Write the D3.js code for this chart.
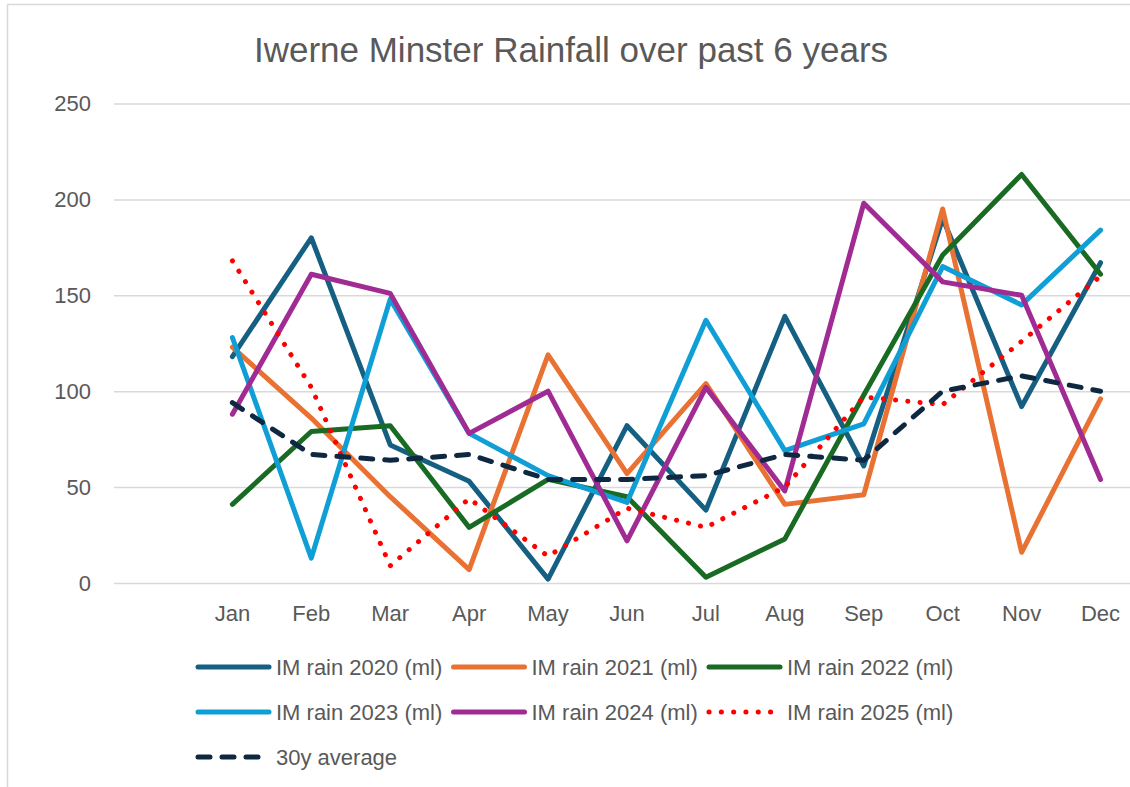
<!DOCTYPE html>
<html>
<head>
<meta charset="utf-8">
<script src="https://cdn.jsdelivr.net/npm/d3@7"></script>
<style>
  body { margin: 0; background: #fff; }
  svg { display: block; font-family: "Liberation Sans", Arial, sans-serif; }
  .grid line { stroke: #d9d9d9; stroke-width: 1.5; }
  .grid path { display: none; }
  .tick-label { fill: #595959; font-size: 22px; }
</style>
</head>
<body>
<svg width="1130" height="787"></svg>
<script>
// first category is blank in the source sheet, that's why Jan sits one slot in
const months = ['', 'Jan', 'Feb', 'Mar', 'Apr', 'May', 'Jun', 'Jul', 'Aug', 'Sep', 'Oct', 'Nov', 'Dec'];
const yTicks = [0, 50, 100, 150, 200, 250];

const rain2020 = [118, 180, 72, 53, 2, 82, 38, 139, 61, 190, 92, 167];
const rain2021 = [123, 86, 45, 7, 119, 57, 104, 41, 46, 195, 16, 96];
const rain2022 = [41, 79, 82, 29, 54, 45, 3, 23, 98, 171, 213, 161];
const rain2023 = [128, 13, 148, 78, 56, 42, 137, 69, 83, 165, 145, 184];
const rain2024 = [88, 161, 151, 78, 100, 22, 102, 48, 198, 157, 150, 54];
const rain2025 = [168, 102, 9, 44, 14, 39, 29, 50, 97, 93, 126, 160];
const avg30y = [94, 67, 64, 67, 54, 54, 56, 67, 64, 100, 108, 100];

const seriesNames = ['IM rain 2020 (ml)', 'IM rain 2021 (ml)', 'IM rain 2022 (ml)',
  'IM rain 2023 (ml)', 'IM rain 2024 (ml)', 'IM rain 2025 (ml)', '30y average'];

const series = [
  { name: seriesNames[0], values: rain2020, color: '#156082', dash: null },
  { name: seriesNames[1], values: rain2021, color: '#E97132', dash: null },
  { name: seriesNames[2], values: rain2022, color: '#196B24', dash: null },
  { name: seriesNames[3], values: rain2023, color: '#0F9ED5', dash: null },
  { name: seriesNames[4], values: rain2024, color: '#A02B93', dash: null },
  { name: seriesNames[5], values: rain2025, color: '#FF0000', dash: '0.1 12.2' },
  { name: seriesNames[6], values: avg30y, color: '#0E2841', dash: '12 12' }
];

const svg = d3.select('svg');

// chart frame (right/bottom run off the picture like the original)
svg.append('rect')
  .attr('x', 7.5).attr('y', 4.5)
  .attr('width', 1135).attr('height', 800)
  .attr('fill', 'none')
  .attr('stroke', '#d9d9d9')
  .attr('stroke-width', 1.5);

svg.append('text')
  .attr('x', 571)
  .attr('y', 62)
  .attr('text-anchor', 'middle')
  .attr('fill', '#595959')
  .style('font-size', '35px')
  .text('Iwerne Minster Rainfall over past 6 years');

const xScale = d3.scaleBand()
  .domain(months)
  .range([114, 1140]);

const yScale = d3.scaleLinear()
  .domain([0, 250])
  .range([583, 103.5]);

const xPos = (m) => xScale(m) + xScale.bandwidth() / 2;

// gridlines
svg.append('g')
  .attr('class', 'grid')
  .attr('transform', 'translate(114, 0)')
  .call(d3.axisLeft(yScale)
    .tickValues(yTicks)
    .tickSize(-(1140 - 114))
    .tickFormat(''));

// y labels
svg.append('g')
  .selectAll('text')
  .data(yTicks)
  .enter()
  .append('text')
  .attr('class', 'tick-label')
  .attr('x', 91)
  .attr('y', (d) => yScale(d))
  .attr('dy', '0.35em')
  .attr('text-anchor', 'end')
  .text((d) => d);

// x labels
svg.append('g')
  .selectAll('text')
  .data(months.filter((m) => m !== ''))
  .enter()
  .append('text')
  .attr('class', 'tick-label')
  .attr('x', (m) => xPos(m))
  .attr('y', 613)
  .attr('dy', '0.35em')
  .attr('text-anchor', 'middle')
  .text((m) => m);

const line = d3.line()
  .x((d) => xPos(d.month))
  .y((d) => yScale(d.value));

const realMonths = months.slice(1);

svg.append('g')
  .selectAll('path')
  .data(series)
  .enter()
  .append('path')
  .attr('d', (s) => line(s.values.map((v, i) => ({ month: realMonths[i], value: v }))))
  .attr('fill', 'none')
  .attr('stroke', (s) => s.color)
  .attr('stroke-width', 5)
  .attr('stroke-linejoin', 'round')
  .attr('stroke-linecap', 'round')
  .attr('stroke-dasharray', (s) => s.dash);

// legend, 3 per row
const legendX = [198, 453.5, 709];
const legendY = [667, 712, 757];

const legend = svg.append('g')
  .selectAll('g')
  .data(series)
  .enter()
  .append('g')
  .attr('transform', (s, i) => `translate(${legendX[i % 3]}, ${legendY[Math.floor(i / 3)]})`);

legend.append('line')
  .attr('x1', 0)
  .attr('x2', (s) => s.dash === '12 12' ? 64 : 71)
  .attr('y1', 0)
  .attr('y2', 0)
  .attr('stroke', (s) => s.color)
  .attr('stroke-width', 5)
  .attr('stroke-linecap', 'round')
  .attr('stroke-dasharray', (s) => s.dash);

legend.append('text')
  .attr('class', 'tick-label')
  .attr('x', 78)
  .attr('y', 0)
  .attr('dy', '0.35em')
  .text((s) => s.name);
</script>
</body>
</html>
